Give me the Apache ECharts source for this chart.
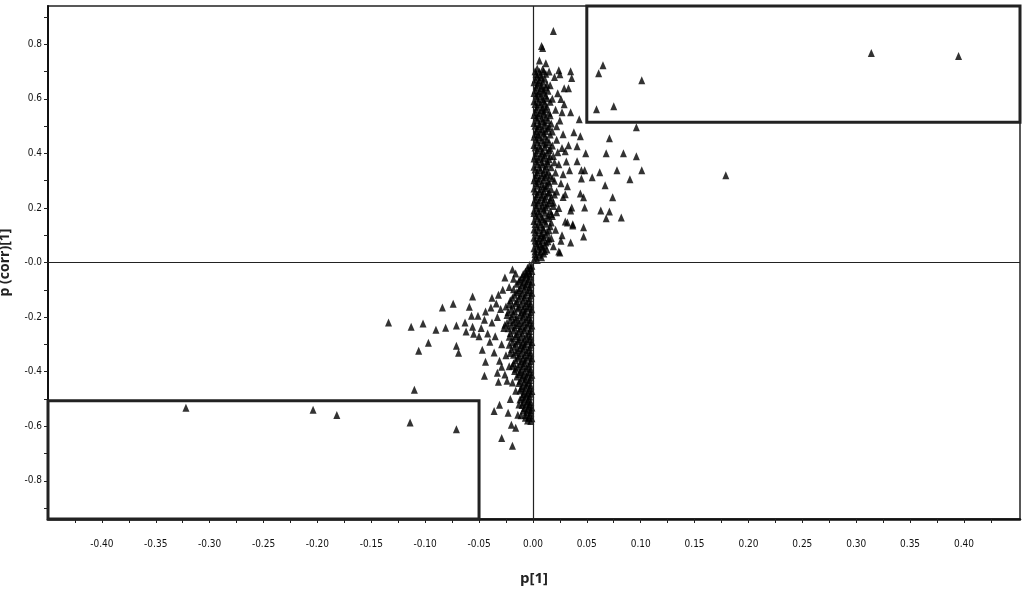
<!DOCTYPE html>
<html>
<head>
<meta charset="utf-8">
<script src="https://cdn.jsdelivr.net/npm/echarts@6/dist/echarts.min.js"></script>
<style>
  html, body { margin: 0; padding: 0; background: #fff; }
  #chart { width: 1024px; height: 593px; }
</style>
</head>
<body>
<div id="chart"></div>
<script>
// tick labels
const xLabels = [-0.4, -0.35, -0.3, -0.25, -0.2, -0.15, -0.1, -0.05, 0, 0.05, 0.1, 0.15, 0.2, 0.25, 0.3, 0.35, 0.4];
const xTicks = [-0.425, -0.4, -0.375, -0.35, -0.325, -0.3, -0.275, -0.25, -0.225, -0.2, -0.175, -0.15, -0.125, -0.1, -0.075, -0.05, -0.025, 0,
  0.025, 0.05, 0.075, 0.1, 0.125, 0.15, 0.175, 0.2, 0.225, 0.25, 0.275, 0.3, 0.325, 0.35, 0.375, 0.4, 0.425];
const yLabels = [-0.8, -0.6, -0.4, -0.2, 0, 0.2, 0.4, 0.6, 0.8];
const yTicks = [-0.9, -0.8, -0.7, -0.6, -0.5, -0.4, -0.3, -0.2, -0.1, 0, 0.1, 0.2, 0.3, 0.4, 0.5, 0.6, 0.7, 0.8, 0.9];

// selection boxes [x0, y0, x1, y1]
const boxUpper = [0.05, 0.514, 0.452, 0.945];
const boxLower = [-0.45, -0.945, -0.05, -0.507];

// points: [p[1], p(corr)[1]]
const outerPos = [
  [0.314, 0.768], [0.395, 0.757], [0.065, 0.723], [0.061, 0.694], [0.101, 0.668], [0.059, 0.562], [0.075, 0.573],
  [0.096, 0.496], [0.071, 0.455], [0.179, 0.320]
];
const fringePos = [
  [0.041, 0.426], [0.049, 0.400], [0.068, 0.400], [0.084, 0.400], [0.096, 0.389], [0.041, 0.371], [0.045, 0.338],
  [0.048, 0.338], [0.062, 0.331], [0.078, 0.338], [0.101, 0.338], [0.045, 0.308], [0.055, 0.312], [0.090, 0.305],
  [0.067, 0.283], [0.044, 0.253], [0.047, 0.239], [0.074, 0.239], [0.048, 0.202], [0.063, 0.191], [0.071, 0.187],
  [0.068, 0.162], [0.082, 0.165], [0.036, 0.202], [0.037, 0.140], [0.047, 0.129], [0.047, 0.095], [0.035, 0.073],
  [0.025, 0.037], [0.019, 0.848], [0.008, 0.793], [0.009, 0.786], [0.024, 0.705], [0.035, 0.701], [0.036, 0.676],
  [0.029, 0.639], [0.033, 0.639], [0.026, 0.599], [0.035, 0.551], [0.027, 0.551], [0.043, 0.525], [0.038, 0.477],
  [0.044, 0.463], [0.022, 0.499], [0.030, 0.408], [0.034, 0.338], [0.028, 0.323], [0.023, 0.404], [0.032, 0.279],
  [0.035, 0.191], [0.032, 0.147], [0.037, 0.136], [0.022, 0.184], [0.024, 0.040],
  [0.019, 0.06], [0.021, 0.12], [0.018, 0.17], [0.024, 0.20], [0.022, 0.26], [0.026, 0.29], [0.021, 0.33],
  [0.024, 0.36], [0.019, 0.39], [0.027, 0.42], [0.022, 0.45], [0.018, 0.48], [0.025, 0.52], [0.021, 0.56],
  [0.029, 0.58], [0.018, 0.60], [0.023, 0.62], [0.016, 0.65], [0.020, 0.68], [0.015, 0.70], [0.028, 0.24],
  [0.030, 0.15], [0.027, 0.10], [0.017, 0.09], [0.031, 0.37], [0.020, 0.30], [0.028, 0.47], [0.016, 0.54],
  [0.033, 0.43], [0.025, 0.69], [0.012, 0.73], [0.006, 0.74], [0.030, 0.25], [0.026, 0.08], [0.019, 0.22]
];
const corePos = [
  [0.001, 0.012], [0.004, 0.009], [0.002, 0.031], [0.006, 0.028], [0.010, 0.033], [0.001, 0.052], [0.005, 0.049],
  [0.009, 0.054], [0.013, 0.048], [0.003, 0.071], [0.007, 0.068], [0.012, 0.073], [0.001, 0.091], [0.006, 0.089],
  [0.010, 0.093], [0.015, 0.087], [0.002, 0.111], [0.008, 0.108], [0.013, 0.113], [0.004, 0.131], [0.009, 0.128],
  [0.016, 0.133], [0.001, 0.152], [0.006, 0.149], [0.011, 0.153], [0.017, 0.147], [0.003, 0.171], [0.008, 0.168],
  [0.014, 0.173], [0.001, 0.191], [0.005, 0.188], [0.010, 0.193], [0.016, 0.189], [0.003, 0.211], [0.009, 0.208],
  [0.013, 0.212], [0.019, 0.207], [0.002, 0.231], [0.006, 0.228], [0.011, 0.233], [0.016, 0.229], [0.004, 0.251],
  [0.009, 0.248], [0.014, 0.253], [0.020, 0.249], [0.001, 0.271], [0.007, 0.268], [0.012, 0.273], [0.017, 0.268],
  [0.003, 0.291], [0.008, 0.288], [0.015, 0.292], [0.002, 0.311], [0.006, 0.308], [0.011, 0.313], [0.018, 0.309],
  [0.004, 0.331], [0.010, 0.328], [0.014, 0.333], [0.001, 0.351], [0.006, 0.348], [0.012, 0.353], [0.017, 0.349],
  [0.003, 0.371], [0.008, 0.368], [0.013, 0.372], [0.020, 0.367], [0.002, 0.391], [0.007, 0.388], [0.011, 0.393],
  [0.016, 0.389], [0.004, 0.411], [0.009, 0.408], [0.015, 0.412], [0.001, 0.431], [0.006, 0.428], [0.012, 0.433],
  [0.018, 0.429], [0.003, 0.451], [0.008, 0.448], [0.013, 0.452], [0.002, 0.471], [0.005, 0.468], [0.010, 0.473],
  [0.016, 0.469], [0.004, 0.491], [0.009, 0.488], [0.014, 0.492], [0.001, 0.511], [0.006, 0.508], [0.011, 0.513],
  [0.017, 0.509], [0.003, 0.531], [0.008, 0.528], [0.012, 0.532], [0.002, 0.551], [0.006, 0.548], [0.010, 0.553],
  [0.015, 0.549], [0.004, 0.571], [0.009, 0.568], [0.013, 0.572], [0.001, 0.591], [0.005, 0.588], [0.010, 0.593],
  [0.016, 0.589], [0.003, 0.611], [0.007, 0.608], [0.012, 0.612], [0.002, 0.631], [0.006, 0.628], [0.010, 0.633],
  [0.014, 0.629], [0.004, 0.651], [0.008, 0.648], [0.013, 0.652], [0.002, 0.671], [0.006, 0.668], [0.011, 0.673],
  [0.003, 0.691], [0.007, 0.688], [0.012, 0.692], [0.004, 0.711], [0.009, 0.708]
];
const corePosInner = [
  [0.003, 0.021], [0.008, 0.019], [0.002, 0.041], [0.007, 0.039], [0.011, 0.042], [0.004, 0.061], [0.008, 0.059],
  [0.011, 0.062], [0.002, 0.081], [0.005, 0.079], [0.009, 0.082], [0.014, 0.078], [0.004, 0.101], [0.008, 0.099],
  [0.012, 0.102], [0.001, 0.121], [0.005, 0.119], [0.010, 0.122], [0.015, 0.118], [0.002, 0.141], [0.007, 0.139],
  [0.012, 0.142], [0.004, 0.161], [0.009, 0.159], [0.014, 0.162], [0.001, 0.181], [0.006, 0.179], [0.011, 0.182],
  [0.017, 0.178], [0.003, 0.201], [0.007, 0.199], [0.012, 0.202], [0.001, 0.221], [0.005, 0.219], [0.010, 0.222],
  [0.015, 0.218], [0.003, 0.241], [0.008, 0.239], [0.012, 0.242], [0.017, 0.238], [0.002, 0.261], [0.006, 0.259],
  [0.010, 0.262], [0.015, 0.258], [0.004, 0.281], [0.010, 0.279], [0.013, 0.282], [0.001, 0.301], [0.005, 0.299],
  [0.010, 0.302], [0.014, 0.298], [0.003, 0.321], [0.008, 0.319], [0.013, 0.322], [0.016, 0.318], [0.002, 0.341],
  [0.007, 0.339], [0.011, 0.342], [0.004, 0.361], [0.009, 0.359], [0.014, 0.362], [0.001, 0.381], [0.005, 0.379],
  [0.010, 0.382], [0.015, 0.378], [0.003, 0.401], [0.008, 0.399], [0.013, 0.402], [0.002, 0.421], [0.007, 0.419],
  [0.011, 0.422], [0.016, 0.418], [0.004, 0.441], [0.010, 0.439], [0.015, 0.442], [0.001, 0.461], [0.006, 0.459],
  [0.011, 0.462], [0.003, 0.481], [0.007, 0.479], [0.012, 0.482], [0.002, 0.501], [0.006, 0.499], [0.011, 0.502],
  [0.015, 0.498], [0.004, 0.521], [0.009, 0.519], [0.014, 0.522], [0.001, 0.541], [0.005, 0.539], [0.010, 0.542],
  [0.003, 0.561], [0.008, 0.559], [0.012, 0.562], [0.002, 0.581], [0.007, 0.579], [0.011, 0.582], [0.004, 0.601],
  [0.009, 0.599], [0.013, 0.602], [0.001, 0.621], [0.005, 0.619], [0.010, 0.622], [0.003, 0.641], [0.008, 0.639],
  [0.012, 0.642], [0.001, 0.661], [0.005, 0.659], [0.009, 0.662], [0.004, 0.681], [0.008, 0.679], [0.002, 0.701],
  [0.006, 0.699], [0.010, 0.702]
];
const coreNeg = [
  [-0.001, -0.012], [-0.003, -0.009], [-0.001, -0.031], [-0.004, -0.028], [-0.007, -0.033], [-0.002, -0.051],
  [-0.006, -0.048], [-0.010, -0.053], [-0.001, -0.071], [-0.005, -0.068], [-0.009, -0.073], [-0.013, -0.069],
  [-0.003, -0.091], [-0.007, -0.088], [-0.012, -0.093], [-0.001, -0.111], [-0.005, -0.108], [-0.010, -0.113],
  [-0.015, -0.109], [-0.003, -0.131], [-0.008, -0.128], [-0.013, -0.133], [-0.019, -0.129], [-0.002, -0.151],
  [-0.006, -0.148], [-0.011, -0.153], [-0.016, -0.149], [-0.022, -0.152], [-0.001, -0.171], [-0.005, -0.168],
  [-0.009, -0.173], [-0.014, -0.169], [-0.020, -0.172], [-0.003, -0.191], [-0.008, -0.188], [-0.012, -0.193],
  [-0.018, -0.189], [-0.024, -0.192], [-0.002, -0.211], [-0.006, -0.208], [-0.011, -0.213], [-0.016, -0.209],
  [-0.021, -0.212], [-0.001, -0.231], [-0.005, -0.228], [-0.010, -0.233], [-0.015, -0.229], [-0.020, -0.232],
  [-0.026, -0.228], [-0.003, -0.251], [-0.008, -0.248], [-0.013, -0.253], [-0.018, -0.249], [-0.002, -0.271],
  [-0.006, -0.268], [-0.011, -0.273], [-0.016, -0.269], [-0.022, -0.272], [-0.001, -0.291], [-0.005, -0.288],
  [-0.009, -0.293], [-0.014, -0.289], [-0.019, -0.292], [-0.003, -0.311], [-0.008, -0.308], [-0.012, -0.313],
  [-0.017, -0.309], [-0.002, -0.331], [-0.006, -0.328], [-0.011, -0.333], [-0.016, -0.329], [-0.021, -0.332],
  [-0.001, -0.351], [-0.005, -0.348], [-0.009, -0.353], [-0.014, -0.349], [-0.003, -0.371], [-0.008, -0.368],
  [-0.012, -0.373], [-0.018, -0.369], [-0.002, -0.391], [-0.006, -0.388], [-0.011, -0.393], [-0.016, -0.389],
  [-0.001, -0.411], [-0.005, -0.408], [-0.009, -0.413], [-0.013, -0.409], [-0.003, -0.431], [-0.007, -0.428],
  [-0.012, -0.433], [-0.002, -0.451], [-0.006, -0.448], [-0.010, -0.453], [-0.001, -0.471], [-0.004, -0.468],
  [-0.008, -0.473], [-0.012, -0.469], [-0.003, -0.491], [-0.006, -0.488], [-0.010, -0.493], [-0.002, -0.511],
  [-0.005, -0.508], [-0.009, -0.513], [-0.001, -0.531], [-0.004, -0.528], [-0.008, -0.533], [-0.002, -0.551],
  [-0.006, -0.548], [-0.001, -0.571], [-0.004, -0.568]
];
const coreNegInner = [
  [-0.002, -0.021], [-0.005, -0.019], [-0.003, -0.041], [-0.006, -0.039], [-0.009, -0.042], [-0.004, -0.061],
  [-0.008, -0.059], [-0.012, -0.062], [-0.002, -0.081], [-0.006, -0.079], [-0.010, -0.082], [-0.015, -0.078],
  [-0.003, -0.101], [-0.008, -0.099], [-0.013, -0.102], [-0.018, -0.098], [-0.002, -0.121], [-0.007, -0.119],
  [-0.012, -0.122], [-0.017, -0.118], [-0.004, -0.141], [-0.009, -0.139], [-0.015, -0.142], [-0.021, -0.138],
  [-0.003, -0.161], [-0.008, -0.159], [-0.013, -0.162], [-0.019, -0.158], [-0.025, -0.161], [-0.002, -0.181],
  [-0.007, -0.179], [-0.011, -0.182], [-0.017, -0.178], [-0.023, -0.181], [-0.004, -0.201], [-0.009, -0.199],
  [-0.015, -0.202], [-0.020, -0.198], [-0.003, -0.221], [-0.008, -0.219], [-0.013, -0.222], [-0.018, -0.218],
  [-0.024, -0.221], [-0.002, -0.241], [-0.007, -0.239], [-0.012, -0.242], [-0.017, -0.238], [-0.023, -0.241],
  [-0.004, -0.261], [-0.010, -0.259], [-0.015, -0.262], [-0.021, -0.258], [-0.003, -0.281], [-0.008, -0.279],
  [-0.013, -0.282], [-0.019, -0.278], [-0.002, -0.301], [-0.007, -0.299], [-0.011, -0.302], [-0.016, -0.298],
  [-0.022, -0.301], [-0.004, -0.321], [-0.009, -0.319], [-0.014, -0.322], [-0.020, -0.318], [-0.003, -0.341],
  [-0.008, -0.339], [-0.013, -0.342], [-0.018, -0.338], [-0.002, -0.361], [-0.007, -0.359], [-0.011, -0.362],
  [-0.016, -0.358], [-0.004, -0.381], [-0.009, -0.379], [-0.014, -0.382], [-0.019, -0.378], [-0.003, -0.401],
  [-0.008, -0.399], [-0.012, -0.402], [-0.017, -0.398], [-0.002, -0.421], [-0.006, -0.419], [-0.010, -0.422],
  [-0.015, -0.418], [-0.004, -0.441], [-0.008, -0.439], [-0.013, -0.442], [-0.003, -0.461], [-0.007, -0.459],
  [-0.011, -0.462], [-0.002, -0.481], [-0.005, -0.479], [-0.009, -0.482], [-0.004, -0.501], [-0.008, -0.499],
  [-0.012, -0.502], [-0.003, -0.521], [-0.006, -0.519], [-0.010, -0.522], [-0.002, -0.541], [-0.005, -0.539],
  [-0.009, -0.542], [-0.003, -0.561], [-0.007, -0.559], [-0.002, -0.581], [-0.005, -0.579]
];
const fringeNeg = [
  [-0.134, -0.220], [-0.113, -0.235], [-0.102, -0.224], [-0.090, -0.246], [-0.081, -0.239], [-0.071, -0.231],
  [-0.063, -0.220], [-0.084, -0.165], [-0.074, -0.151], [-0.097, -0.294], [-0.106, -0.323], [-0.071, -0.305],
  [-0.069, -0.331], [-0.059, -0.162], [-0.056, -0.125], [-0.062, -0.253], [-0.055, -0.261], [-0.056, -0.235],
  [-0.057, -0.195], [-0.051, -0.195], [-0.047, -0.320], [-0.110, -0.466], [-0.044, -0.364], [-0.045, -0.415],
  [-0.033, -0.404], [-0.032, -0.437], [-0.024, -0.433], [-0.029, -0.382], [-0.038, -0.129], [-0.032, -0.118],
  [-0.039, -0.165], [-0.026, -0.055], [-0.019, -0.026], [-0.031, -0.521], [-0.036, -0.544], [-0.023, -0.551],
  [-0.014, -0.558], [-0.020, -0.595], [-0.016, -0.606], [-0.029, -0.643], [-0.019, -0.672], [-0.007, -0.569],
  [-0.028, -0.10], [-0.030, -0.17], [-0.033, -0.20], [-0.027, -0.24], [-0.035, -0.27], [-0.029, -0.30],
  [-0.038, -0.22], [-0.042, -0.26], [-0.025, -0.34], [-0.031, -0.36], [-0.036, -0.33], [-0.022, -0.38],
  [-0.026, -0.41], [-0.019, -0.44], [-0.016, -0.47], [-0.021, -0.50], [-0.013, -0.52], [-0.011, -0.56],
  [-0.045, -0.21], [-0.048, -0.24], [-0.040, -0.29], [-0.018, -0.06], [-0.022, -0.09], [-0.016, -0.04],
  [-0.034, -0.15], [-0.044, -0.18], [-0.050, -0.27]
];
const outerNeg = [
  [-0.322, -0.532], [-0.204, -0.540], [-0.182, -0.559], [-0.114, -0.586], [-0.071, -0.611]
];

const chart = echarts.init(document.getElementById("chart"));
const labelFont = "'Liberation Sans Narrow', 'DejaVu Sans Condensed', 'Roboto', sans-serif";
const allPoints = [].concat(corePos, corePosInner, fringePos, outerPos, coreNeg, coreNegInner, fringeNeg, outerNeg);

const option = {
  animation: false,
  grid: {
    left: 48,
    right: 4,
    top: 6,
    bottom: 74,
    outerBoundsMode: "none",
    containLabel: false,
    show: true,
    borderColor: "#222",
    borderWidth: 1.5,
  },
  xAxis: {
    type: "value",
    min: -0.45,
    max: 0.452,
    name: "p[1]",
    nameLocation: "middle",
    nameGap: 52,
    nameTextStyle: { fontFamily: "'Open Sans', sans-serif", fontWeight: "bold", fontSize: 15, color: "#222" },
    splitLine: { show: false },
    axisLine: { onZero: false, lineStyle: { color: "#111", width: 2.5 } },
    axisTick: { customValues: xTicks, length: 4, lineStyle: { color: "#222" } },
    axisLabel: {
      customValues: xLabels,
      margin: 20,
      fontFamily: labelFont,
      fontSize: 10,
      color: "#111",
      formatter: (v) => v.toFixed(2),
    },
  },
  yAxis: {
    type: "value",
    min: -0.94,
    max: 0.94,
    name: "p (corr)[1]",
    nameLocation: "middle",
    nameGap: 36,
    nameRotate: 90,
    nameTextStyle: { fontFamily: "'Open Sans', sans-serif", fontWeight: "bold", fontSize: 14, color: "#222" },
    splitLine: { show: false },
    axisLine: { onZero: false, lineStyle: { color: "#111", width: 2 } },
    axisTick: { customValues: yTicks, length: 4, lineStyle: { color: "#222" } },
    axisLabel: {
      customValues: yLabels,
      margin: 6,
      fontFamily: labelFont,
      fontSize: 10,
      color: "#111",
      formatter: (v) => (Math.abs(v) < 1e-9 ? "-0.0" : v.toFixed(1)),
    },
  },
  series: [
    {
      type: "scatter",
      data: allPoints,
      symbol: "triangle",
      symbolSize: [7, 8],
      clip: false,
      itemStyle: { color: "#000" },
      markLine: {
        silent: true,
        symbol: "none",
        label: { show: false },
        lineStyle: { color: "#222", width: 1.2, type: "solid" },
        data: [{ xAxis: 0 }, { yAxis: 0 }],
      },
      markArea: {
        silent: true,
        itemStyle: { color: "rgba(0,0,0,0)", borderColor: "#222", borderWidth: 3 },
        data: [
          [{ coord: [boxUpper[0], boxUpper[1]] }, { coord: [boxUpper[2], boxUpper[3]] }],
          [{ coord: [boxLower[0], boxLower[1]] }, { coord: [boxLower[2], boxLower[3]] }],
        ],
      },
    },
  ],
};
chart.setOption(option);
</script>
</body>
</html>
